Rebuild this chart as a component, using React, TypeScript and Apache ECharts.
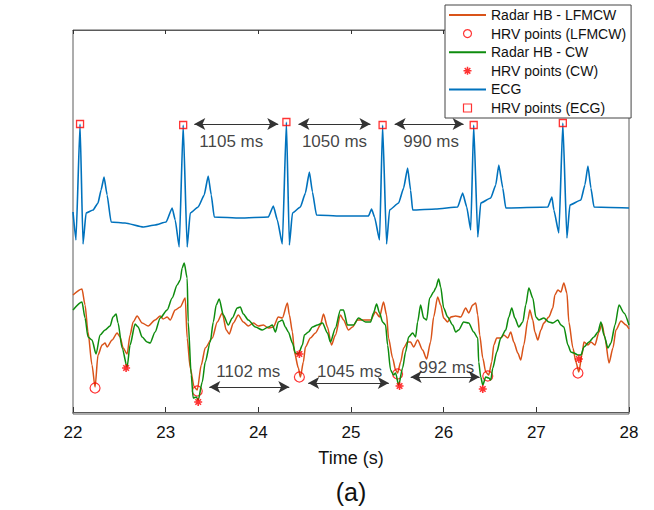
import React, { useEffect, useRef } from "react";
import * as echarts from "echarts";

const FONT = '"Liberation Sans", Arial, Helvetica, sans-serif';

// Time (s) / amplitude (arbitrary units)
const ecg: [number, number][] = [
  [22.0, 200], [22.032, 172], [22.076, 288], [22.108, 168], [22.141, 199], [22.216, 202], [22.27, 209],
  [22.303, 222], [22.335, 235], [22.368, 217], [22.411, 190], [22.562, 189], [22.757, 185], [22.886, 187],
  [23.005, 190], [23.07, 204], [23.103, 192], [23.146, 165], [23.189, 287], [23.232, 165], [23.265, 199],
  [23.351, 205], [23.416, 217], [23.459, 236], [23.492, 217], [23.524, 195], [23.805, 194], [24.108, 195],
  [24.162, 206], [24.205, 192], [24.259, 168], [24.303, 290], [24.335, 167], [24.368, 199], [24.454, 205],
  [24.508, 219], [24.551, 240], [24.584, 220], [24.627, 197], [24.886, 196], [25.189, 196], [25.222, 203],
  [25.254, 195], [25.308, 172], [25.341, 287], [25.384, 168], [25.416, 202], [25.514, 209], [25.568, 224],
  [25.611, 244], [25.643, 222], [25.665, 202], [25.914, 203], [26.151, 205], [26.205, 219], [26.249, 205],
  [26.292, 182], [26.324, 287], [26.368, 175], [26.4, 209], [26.508, 214], [26.562, 227], [26.595, 247],
  [26.638, 224], [26.67, 204], [27.124, 205], [27.168, 215], [27.189, 202], [27.243, 179], [27.286, 289],
  [27.33, 174], [27.362, 207], [27.481, 212], [27.524, 227], [27.557, 246], [27.589, 224], [27.622, 205],
  [28.0, 204],
];

const lfmcw: [number, number][] = [
  [22.0, 117], [22.097, 123], [22.13, 107], [22.162, 80], [22.205, 47], [22.238, 25], [22.27, 57],
  [22.314, 67], [22.346, 69], [22.368, 65], [22.422, 72], [22.476, 79], [22.508, 75], [22.541, 64],
  [22.584, 58], [22.616, 77], [22.649, 90], [22.692, 96], [22.746, 89], [22.811, 86], [22.886, 92],
  [22.941, 96], [22.973, 93], [23.016, 95], [23.049, 92], [23.103, 102], [23.157, 105], [23.211, 114],
  [23.232, 74], [23.265, 44], [23.308, 25], [23.341, 22], [23.384, 47], [23.427, 64], [23.503, 74],
  [23.557, 90], [23.611, 99], [23.654, 82], [23.686, 78], [23.73, 89], [23.784, 97], [23.838, 90],
  [23.892, 86], [23.946, 89], [24.0, 86], [24.054, 87], [24.108, 84], [24.162, 85], [24.216, 95],
  [24.259, 94], [24.314, 109], [24.335, 97], [24.368, 80], [24.389, 60], [24.432, 44], [24.454, 35],
  [24.486, 50], [24.508, 65], [24.562, 74], [24.616, 79], [24.67, 87], [24.703, 98], [24.746, 85],
  [24.789, 67], [24.832, 77], [24.886, 97], [24.919, 92], [24.973, 82], [25.016, 85], [25.07, 92],
  [25.135, 92], [25.211, 92], [25.265, 100], [25.308, 95], [25.351, 110], [25.384, 97], [25.405, 74],
  [25.449, 54], [25.481, 42], [25.503, 39], [25.535, 50], [25.568, 64], [25.611, 70], [25.643, 70],
  [25.676, 65], [25.719, 72], [25.773, 62], [25.816, 53], [25.859, 70], [25.892, 95], [25.935, 115],
  [25.968, 107], [26.0, 94], [26.043, 90], [26.076, 95], [26.13, 96], [26.184, 95], [26.238, 104],
  [26.27, 99], [26.314, 107], [26.346, 109], [26.368, 97], [26.389, 77], [26.422, 54], [26.454, 40],
  [26.486, 37], [26.519, 50], [26.541, 67], [26.573, 74], [26.616, 74], [26.649, 77], [26.692, 74],
  [26.724, 80], [26.757, 70], [26.8, 59], [26.832, 52], [26.865, 67], [26.908, 92], [26.93, 102],
  [26.962, 92], [26.984, 80], [27.016, 72], [27.049, 82], [27.081, 89], [27.135, 95], [27.178, 104],
  [27.2, 117], [27.232, 122], [27.265, 120], [27.297, 129], [27.33, 119], [27.351, 90], [27.395, 64],
  [27.427, 50], [27.459, 40], [27.492, 57], [27.514, 70], [27.557, 67], [27.589, 70], [27.632, 67],
  [27.676, 80], [27.708, 88], [27.741, 74], [27.784, 49], [27.827, 64], [27.859, 82], [27.914, 91],
  [27.968, 87], [28.0, 83],
];

const cw: [number, number][] = [
  [22.0, 102], [22.097, 110], [22.13, 94], [22.162, 75], [22.205, 72], [22.249, 58], [22.292, 77],
  [22.346, 82], [22.4, 86], [22.432, 95], [22.465, 98], [22.486, 89], [22.53, 64], [22.584, 45],
  [22.616, 67], [22.67, 88], [22.703, 85], [22.746, 75], [22.8, 70], [22.832, 69], [22.886, 80],
  [22.941, 94], [23.016, 102], [23.07, 114], [23.124, 127], [23.157, 132], [23.178, 144], [23.2, 149],
  [23.232, 134], [23.243, 90], [23.276, 37], [23.297, 14], [23.33, 15], [23.351, 12], [23.395, 30],
  [23.427, 50], [23.481, 70], [23.514, 90], [23.546, 107], [23.578, 113], [23.622, 97], [23.676, 87],
  [23.719, 94], [23.773, 104], [23.805, 105], [23.838, 98], [23.892, 92], [23.968, 85], [24.043, 82],
  [24.108, 85], [24.151, 87], [24.184, 80], [24.216, 90], [24.259, 92], [24.292, 85], [24.324, 80],
  [24.368, 69], [24.4, 59], [24.432, 58], [24.476, 67], [24.497, 77], [24.541, 80], [24.584, 85],
  [24.638, 87], [24.692, 89], [24.746, 79], [24.778, 70], [24.832, 84], [24.886, 102], [24.919, 102],
  [24.962, 87], [25.027, 87], [25.081, 94], [25.157, 90], [25.211, 90], [25.243, 99], [25.276, 108],
  [25.308, 99], [25.341, 90], [25.373, 87], [25.395, 67], [25.427, 42], [25.459, 37], [25.481, 39],
  [25.514, 27], [25.557, 44], [25.589, 60], [25.622, 75], [25.665, 79], [25.697, 75], [25.719, 90],
  [25.751, 107], [25.784, 94], [25.816, 92], [25.849, 114], [25.892, 120], [25.914, 124], [25.946, 133],
  [25.968, 125], [26.0, 104], [26.043, 95], [26.097, 87], [26.13, 80], [26.162, 82], [26.216, 90],
  [26.27, 89], [26.324, 80], [26.368, 74], [26.378, 50], [26.4, 35], [26.422, 27], [26.454, 35],
  [26.486, 34], [26.508, 32], [26.53, 44], [26.573, 60], [26.616, 74], [26.67, 82], [26.703, 95],
  [26.735, 104], [26.768, 94], [26.811, 85], [26.854, 90], [26.886, 107], [26.919, 124], [26.962, 114],
  [26.995, 95], [27.027, 92], [27.081, 94], [27.135, 90], [27.178, 89], [27.232, 92], [27.265, 87],
  [27.297, 85], [27.341, 67], [27.373, 60], [27.405, 59], [27.449, 57], [27.481, 57], [27.514, 65],
  [27.568, 70], [27.622, 75], [27.665, 80], [27.697, 90], [27.73, 77], [27.773, 64], [27.805, 69],
  [27.849, 87], [27.892, 107], [27.946, 99], [28.0, 87],
];

const lfmcwHrv: [number, number][] = [
  [22.238, 24], [23.341, 21], [24.443, 35], [25.503, 38], [26.476, 36], [27.449, 39],
];
const cwHrv: [number, number][] = [
  [22.573, 44], [23.351, 10], [24.443, 58], [25.524, 26], [26.422, 23], [27.459, 53],
];
const ecgHrv: [number, number][] = [
  [22.076, 288], [23.189, 287], [24.303, 290], [25.341, 287], [26.324, 287], [27.286, 289],
];

// interval arrows: [start time, end time, level]
const intervalArrows: [number, number, number][] = [
  [23.254, 24.27, 288], [24.378, 25.265, 288], [25.416, 26.27, 288],
  [23.416, 24.389, 25], [24.483, 25.463, 29], [25.589, 26.443, 35],
];
const intervalLabels = ["1105 ms", "1050 ms", "990 ms", "1102 ms", "1045 ms", "992 ms"];
const intervalLabelPos: [number, number][] = [
  [23.708, 271], [24.822, 271], [25.865, 271], [23.892, 41], [24.984, 41], [26.03, 45],
];

const xTicksMin = 22;
const xTicksMax = 28;

const ASTERISK = "path://M5,0L5,10M0,5L10,5M1.5,1.5L8.5,8.5M8.5,1.5L1.5,8.5";
const SQUARE = "path://M0,0L10,0L10,10L0,10Z";
const AXIS_COLOR = "#5a5a5a";
const ARROW_INSET = 0.055;

export default function App() {
  const ref = useRef<HTMLDivElement>(null);
  useEffect(() => {
    document.body.style.margin = "0";
    if (!ref.current) return;
    const chart = echarts.init(ref.current, undefined, { renderer: "svg" });
    const hollow = (bw: number) => ({ color: "rgba(0,0,0,0)", borderColor: "#FF0000", borderWidth: bw });
    const noMarker = { color: "rgba(0,0,0,0)", borderWidth: 0, opacity: 0 };
    const option: any = {
      animation: false,
      backgroundColor: "#ffffff",
      textStyle: { fontFamily: FONT },
      title: {
        text: "(a)",
        left: 351,
        top: 479,
        padding: 0,
        textAlign: "center",
        textStyle: { fontSize: 25, fontWeight: "normal", color: "#111", fontFamily: FONT },
      },
      grid: {
        left: 73,
        right: 25,
        top: 30,
        bottom: 96,
        show: true,
        borderColor: AXIS_COLOR,
        borderWidth: 1,
      },
      legend: {
        orient: "vertical",
        left: 445,
        top: 5,
        selectedMode: false,
        backgroundColor: "#ffffff",
        borderColor: "#444",
        borderWidth: 1,
        borderRadius: 0,
        padding: [2, 5, 2, 3],
        itemGap: 2.6,
        itemWidth: 37,
        itemHeight: 8,
        textStyle: { fontSize: 14, lineHeight: 16, color: "#111", fontFamily: FONT },
        data: [
          { name: "Radar HB - LFMCW", itemStyle: noMarker },
          { name: "HRV points (LFMCW)", itemStyle: hollow(1.2) },
          { name: "Radar HB - CW", itemStyle: noMarker },
          { name: "HRV points (CW)", itemStyle: hollow(1.5) },
          { name: "ECG", itemStyle: noMarker },
          { name: "HRV points (ECG)", itemStyle: hollow(1.2) },
        ],
      },
      xAxis: [
        {
          type: "value",
          min: xTicksMin,
          max: xTicksMax,
          interval: 1,
          position: "bottom",
          name: "Time (s)",
          nameLocation: "middle",
          nameGap: 35,
          nameTextStyle: { fontSize: 18, color: "#111", fontFamily: FONT },
          axisLine: { show: true, lineStyle: { color: AXIS_COLOR, width: 1 } },
          axisTick: { show: true, inside: true, length: 5, lineStyle: { color: "#333" } },
          axisLabel: { fontSize: 17, margin: 10, color: "#111", fontFamily: FONT },
          splitLine: { show: false },
        },
        {
          type: "value",
          min: xTicksMin,
          max: xTicksMax,
          interval: 1,
          position: "top",
          axisLine: { show: true, lineStyle: { color: AXIS_COLOR, width: 1 } },
          axisTick: { show: true, inside: true, length: 4, lineStyle: { color: "#333" } },
          axisLabel: { show: false },
          splitLine: { show: false },
        },
      ],
      yAxis: {
        type: "value",
        min: -2,
        max: 382,
        axisLine: { show: false },
        axisTick: { show: false },
        axisLabel: { show: false },
        splitLine: { show: false },
      },
      series: [
        {
          name: "Radar HB - LFMCW",
          type: "line",
          data: lfmcw,
          symbol: "none",
          showSymbol: false,
          smooth: 0.25,
          smoothMonotone: "x",
          lineStyle: { color: "#D95319", width: 1.5 },
          itemStyle: { color: "#D95319" },
          z: 2,
        },
        {
          name: "HRV points (LFMCW)",
          type: "scatter",
          data: lfmcwHrv,
          symbol: "circle",
          symbolSize: 10,
          itemStyle: hollow(1.2),
          z: 3,
        },
        {
          name: "Radar HB - CW",
          type: "line",
          data: cw,
          symbol: "none",
          showSymbol: false,
          smooth: 0.25,
          smoothMonotone: "x",
          lineStyle: { color: "#0E8C0E", width: 1.5 },
          itemStyle: { color: "#0E8C0E" },
          z: 4,
        },
        {
          name: "HRV points (CW)",
          type: "scatter",
          data: cwHrv,
          symbol: ASTERISK,
          symbolSize: 8,
          itemStyle: hollow(1.6),
          z: 5,
        },
        {
          name: "ECG",
          type: "line",
          data: ecg,
          symbol: "none",
          showSymbol: false,
          smooth: 0.15,
          smoothMonotone: "x",
          lineStyle: { color: "#0072BD", width: 1.6 },
          itemStyle: { color: "#0072BD" },
          z: 6,
        },
        {
          name: "HRV points (ECG)",
          type: "scatter",
          data: ecgHrv,
          symbol: SQUARE,
          symbolSize: 7,
          itemStyle: hollow(1.3),
          z: 7,
        },
        {
          name: "intervals",
          type: "scatter",
          silent: true,
          symbol: "circle",
          symbolSize: 1,
          itemStyle: { color: "rgba(0,0,0,0)" },
          z: 8,
          data: intervalLabels.map((s, i) => ({ name: s, value: intervalLabelPos[i] })),
          label: {
            show: true,
            position: "inside",
            formatter: "{b}",
            fontSize: 17,
            color: "#111",
            fontFamily: FONT,
          },
          markLine: {
            silent: true,
            symbol: ["arrow", "arrow"],
            symbolSize: [9, 11],
            lineStyle: { color: "#333", width: 1.2, type: "solid" },
            itemStyle: { color: "#111" },
            label: { show: false },
            emphasis: { disabled: true },
            data: intervalArrows.map(([a, b, y]) => [
              { coord: [a + ARROW_INSET, y] },
              { coord: [b - ARROW_INSET, y] },
            ]),
          },
        },
      ],
    };
    chart.setOption(option);
    return () => chart.dispose();
  }, []);
  return <div ref={ref} style={{ width: 654, height: 510 }} />;
}
